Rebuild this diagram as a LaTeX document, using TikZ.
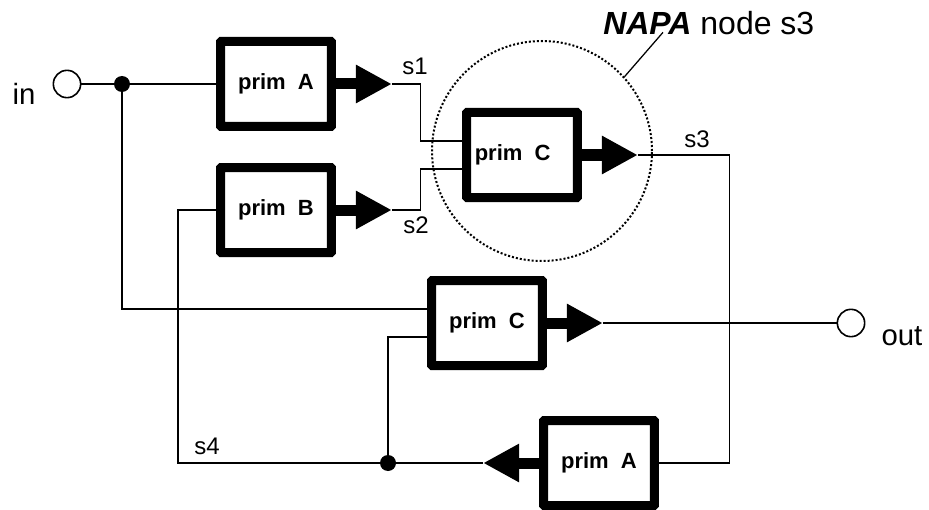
\documentclass[tikz,border=0pt]{standalone}
\usepackage{fontspec}
\setmainfont{Liberation Sans}
\usetikzlibrary{arrows.meta}
\usetikzlibrary{positioning}

\begin{document}
\begin{tikzpicture}[x=0.75pt,y=0.75pt,yscale=-1,xscale=1,
  prim/.style={draw,line width=6.75pt,rounded corners=0.5pt,minimum width=83pt,minimum height=63.75pt,inner sep=0pt,font=\fontsize{16.5}{18}\selectfont\bfseries},
  wire/.style={line width=0.95pt},
  outarrow/.style={line width=8.25pt,-{Triangle[length=27pt,width=27pt]}},
  junction/.style={circle,fill,inner sep=0pt,minimum size=12pt},
  port/.style={circle,draw,line width=1.2pt,inner sep=0pt,minimum size=20.5pt},
  sig/.style={font=\fontsize{18}{20}\selectfont,inner sep=0pt,anchor=base},
  io/.style={font=\fontsize{22}{24}\selectfont,inner sep=0pt,anchor=base}]
\useasboundingbox (0,0) rectangle (929,510);

%Shape: Circle [ports and junctions]
\node[port] (in) at (67,84) {};
\node[port] (out) at (851,323) {};
\node[junction] (j1) at (122,84) {};
\node[junction] (j2) at (388,463) {};
\coordinate (s4c) at (178,463);

%Shape: Rectangle [primitives]
\node[prim] (pA1) at (276,84) {prim\ \ A};
\node[prim] (pB) at (276,210) {prim\ \ B};
\node[prim] (pC1) at (522,155) {prim\ \ C\hspace*{14pt}};
\node[prim] (pC2) at (487,323) {prim\ \ C};
\node[prim] (pA2) at (599,463) {prim\ \ A};

%Shape: Circle [NAPA node]
\node[circle,draw,dash pattern=on 1.5pt off 1.5pt,line width=1.5pt,minimum size=165pt,inner sep=0pt] (napa) at (542,151) {};

% arrow tips and input pins
\coordinate[right=42pt of pA1.east] (tA1);
\coordinate[right=42pt of pB.east] (tB);
\coordinate[right=42pt of pC1.east] (tC1);
\coordinate[right=42pt of pC2.east] (tC2);
\coordinate[left=42pt of pA2.west] (tA2);
\coordinate[above=10.5pt of pC1.west] (pC1i1);
\coordinate[below=10.5pt of pC1.west] (pC1i2);
\coordinate[above=10.5pt of pC2.west] (pC2i1);
\coordinate[below=10.5pt of pC2.west] (pC2i2);

%Straight Lines
\draw[wire] (in) -- (j1) -- (pA1);
\draw[wire] (j1) |- (pC2i1);
\draw[outarrow] (pA1) -- (tA1);
\draw[wire] (tA1) -- ++(29,0) |- (pC1i1);
\draw[outarrow] (pB) -- (tB);
\draw[wire] (tB) -- ++(29,0) |- (pC1i2);
\draw[outarrow] (pC1) -- (tC1);
\draw[wire] (tC1) -- ++(92,0) |- (pA2);
\draw[outarrow] (pA2) -- (tA2);
\draw[wire] (tA2) -- (j2) -- (s4c) |- (pB);
\draw[wire] (j2) |- (pC2i2);
\draw[outarrow] (pC2) -- (tC2);
\draw[wire] (tC2) -- (out);

% Text Node
\node[io] (inlbl) at (24,105) {in};
% Text Node
\node[io] (outlbl) at (902,345) {out};
% Text Node
\node[sig] (s1lbl) at (415,75) {s1};
% Text Node
\node[sig] (s2lbl) at (416,233) {s2};
% Text Node
\node[sig] (s3lbl) at (697,147) {s3};
% Text Node
\node[sig] (s4lbl) at (207,454) {s4};
% Text Node
\node[font=\fontsize{24}{26}\selectfont,inner sep=0pt,anchor=base west] (napalbl) at (603,35) {\textbf{\textit{NAPA}} node s3};
\draw[wire] ([xshift=45pt,yshift=-2pt]napalbl.base west) -- (napa.42);

\end{tikzpicture}
\end{document}
